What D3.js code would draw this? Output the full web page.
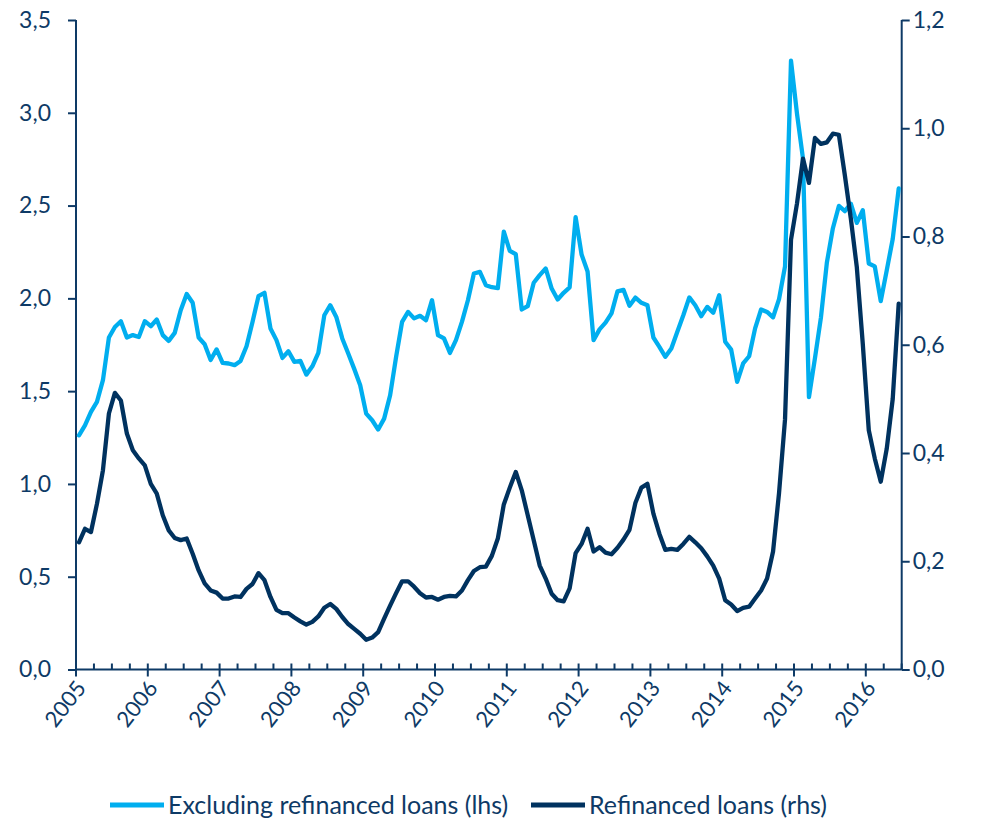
<!DOCTYPE html>
<html>
<head>
<meta charset="utf-8">
<script src="https://cdn.jsdelivr.net/npm/d3@7"></script>
<style>
  html, body { margin: 0; padding: 0; background: #ffffff; }
  svg { display: block; font-family: Lato, "Open Sans", sans-serif; }
</style>
</head>
<body>
<svg id="chart" width="981" height="819"></svg>
<script>
// Monthly observations, January 2005 to June 2016
const yearLabels = ["2005","2006","2007","2008","2009","2010","2011","2012","2013","2014","2015","2016"];

// Growth excluding refinanced loans (left axis)
const excludingRefinanced = [
  1.262, 1.316, 1.388, 1.442, 1.559, 1.789, 1.846, 1.877, 1.789, 1.802, 1.792, 1.877,
  1.850, 1.886, 1.802, 1.771, 1.814, 1.936, 2.023, 1.976, 1.789, 1.753, 1.668, 1.725,
  1.652, 1.649, 1.640, 1.663, 1.742, 1.873, 2.012, 2.030, 1.838, 1.775, 1.679, 1.715,
  1.658, 1.663, 1.589, 1.634, 1.706, 1.909, 1.963, 1.900, 1.784, 1.703, 1.620, 1.532,
  1.379, 1.343, 1.293, 1.352, 1.478, 1.685, 1.873, 1.927, 1.892, 1.906, 1.882, 1.990,
  1.802, 1.784, 1.706, 1.775, 1.873, 1.990, 2.134, 2.143, 2.071, 2.060, 2.055, 2.359,
  2.256, 2.238, 1.940, 1.958, 2.084, 2.125, 2.161, 2.053, 1.994, 2.030, 2.059, 2.438,
  2.236, 2.145, 1.775, 1.833, 1.869, 1.919, 2.038, 2.046, 1.960, 2.004, 1.976, 1.963,
  1.789, 1.739, 1.685, 1.730, 1.820, 1.909, 2.005, 1.963, 1.904, 1.954, 1.922, 2.017,
  1.766, 1.724, 1.550, 1.649, 1.688, 1.838, 1.940, 1.927, 1.898, 1.996, 2.172, 3.281,
  2.995, 2.754, 1.468, 1.677, 1.897, 2.194, 2.378, 2.498, 2.470, 2.510, 2.407, 2.475,
  2.188, 2.172, 1.985, 2.151, 2.320, 2.592
];

// Refinanced loans (right axis)
const refinanced = [
  0.235, 0.260, 0.254, 0.306, 0.368, 0.473, 0.511, 0.497, 0.436, 0.405, 0.390, 0.377,
  0.343, 0.325, 0.285, 0.257, 0.243, 0.239, 0.242, 0.214, 0.183, 0.159, 0.146, 0.142,
  0.131, 0.131, 0.135, 0.134, 0.149, 0.158, 0.178, 0.165, 0.134, 0.110, 0.104, 0.104,
  0.096, 0.089, 0.083, 0.088, 0.098, 0.114, 0.121, 0.112, 0.097, 0.084, 0.075, 0.066,
  0.055, 0.059, 0.069, 0.094, 0.118, 0.141, 0.163, 0.163, 0.153, 0.141, 0.133, 0.134,
  0.129, 0.134, 0.136, 0.135, 0.146, 0.165, 0.182, 0.189, 0.190, 0.210, 0.242, 0.305,
  0.336, 0.365, 0.331, 0.285, 0.239, 0.192, 0.168, 0.140, 0.128, 0.126, 0.150, 0.215,
  0.232, 0.260, 0.218, 0.226, 0.216, 0.213, 0.225, 0.240, 0.258, 0.308, 0.336, 0.343,
  0.288, 0.251, 0.221, 0.223, 0.221, 0.232, 0.245, 0.235, 0.224, 0.209, 0.192, 0.168,
  0.128, 0.120, 0.108, 0.114, 0.116, 0.131, 0.146, 0.168, 0.218, 0.326, 0.462, 0.794,
  0.861, 0.944, 0.899, 0.982, 0.971, 0.974, 0.990, 0.988, 0.913, 0.833, 0.743, 0.601,
  0.442, 0.390, 0.347, 0.408, 0.500, 0.676
];

const leftTicks = [0, 0.5, 1.0, 1.5, 2.0, 2.5, 3.0, 3.5];
const rightTicks = [0, 0.2, 0.4, 0.6, 0.8, 1.0, 1.2];
const seriesNames = ["Excluding refinanced loans (lhs)", "Refinanced loans (rhs)"];

const lightBlue = "#00AEEF";
const navy = "#00325F";
const ink = "#0E3A66";

const svg = d3.select("#chart");
const months = excludingRefinanced.length;

const plotLeft = 76, plotRight = 901.7, plotTop = 20, plotBottom = 669.5;

// Each month occupies one slot; points sit in the middle of their slot
const x = d3.scaleLinear().domain([0, months]).range([plotLeft, plotRight]);
const yL = d3.scaleLinear().domain([0, 3.5]).range([plotBottom, plotTop]);
const yR = d3.scaleLinear().domain([0, 1.2]).range([plotBottom, plotTop]);

const fmt = d => d.toFixed(1).replace(".", ",");

// Left axis
const gL = svg.append("g")
  .attr("transform", `translate(${plotLeft},0)`)
  .call(d3.axisLeft(yL).tickValues(leftTicks).tickFormat(fmt).tickSize(8).tickPadding(17));

// Right axis
const gR = svg.append("g")
  .attr("transform", `translate(${plotRight},0)`)
  .call(d3.axisRight(yR).tickValues(rightTicks).tickFormat(fmt).tickSize(8).tickPadding(3));

[gL, gR].forEach(g => {
  g.select(".domain").attr("stroke", ink).attr("stroke-width", 2)
    .attr("d", `M0,${plotTop}V${plotBottom}`);
  g.selectAll(".tick line").attr("stroke", ink).attr("stroke-width", 2);
  g.selectAll(".tick text").attr("fill", ink).attr("font-size", 23)
    .attr("font-family", "Lato, 'Open Sans', sans-serif");
});

// Bottom axis: quarterly minor ticks, yearly major ticks
const gX = svg.append("g").attr("transform", `translate(0,${plotBottom})`);
gX.append("line")
  .attr("x1", plotLeft).attr("x2", plotRight).attr("y1", 0).attr("y2", 0)
  .attr("stroke", ink).attr("stroke-width", 2);
const quarterTicks = d3.range(0, months + 1, 3);
gX.selectAll("line.tick")
  .data(quarterTicks)
  .join("line")
  .attr("class", "tick")
  .attr("x1", d => x(d)).attr("x2", d => x(d))
  .attr("y1", -6)
  .attr("y2", d => d % 12 === 0 ? 7 : 0)
  .attr("stroke", ink).attr("stroke-width", 2);

gX.selectAll("text.year")
  .data(yearLabels)
  .join("text")
  .attr("class", "year")
  .attr("transform", (d, i) => `translate(${x(i * 12) + 11},${19}) rotate(-52)`)
  .attr("text-anchor", "end")
  .attr("fill", ink)
  .attr("font-size", 22)
  .text(d => d);

// Lines
const lineL = d3.line()
  .x((d, i) => x(i + 0.5))
  .y(d => yL(d));
const lineR = d3.line()
  .x((d, i) => x(i + 0.5))
  .y(d => yR(d));

svg.append("path")
  .datum(excludingRefinanced)
  .attr("d", lineL)
  .attr("fill", "none")
  .attr("stroke", lightBlue)
  .attr("stroke-width", 4.3)
  .attr("stroke-linejoin", "round")
  .attr("stroke-linecap", "round");

svg.append("path")
  .datum(refinanced)
  .attr("d", lineR)
  .attr("fill", "none")
  .attr("stroke", navy)
  .attr("stroke-width", 4.3)
  .attr("stroke-linejoin", "round")
  .attr("stroke-linecap", "round");

// Legend
const legend = svg.append("g").attr("transform", "translate(0,805)");
const legendItems = [
  { name: seriesNames[0], color: lightBlue, x0: 110 },
  { name: seriesNames[1], color: navy, x0: 531 }
];
legendItems.forEach(it => {
  legend.append("line")
    .attr("x1", it.x0).attr("x2", it.x0 + 54)
    .attr("y1", 0).attr("y2", 0)
    .attr("stroke", it.color).attr("stroke-width", 5);
  legend.append("text")
    .attr("x", it.x0 + 58).attr("y", 8.5)
    .attr("fill", ink)
    .attr("font-size", 25)
    .text(it.name);
});
</script>
</body>
</html>
